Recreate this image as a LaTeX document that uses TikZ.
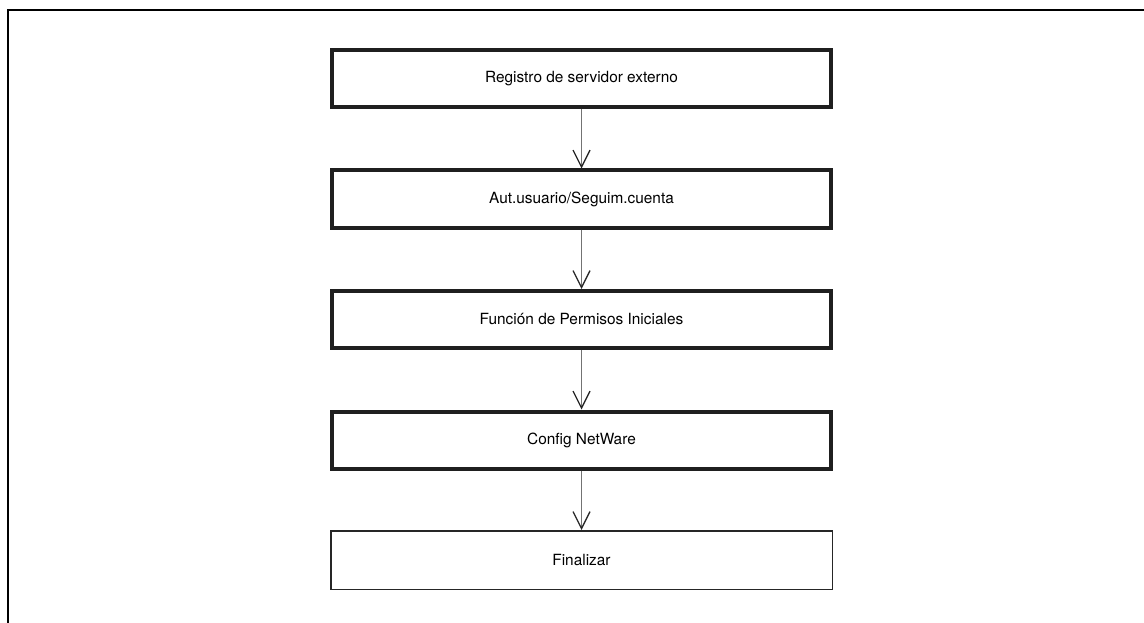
\documentclass[tikz,border=0pt]{standalone}
\usepackage{fontspec}
\setmainfont{TeX Gyre Heros}
\usetikzlibrary{arrows.meta}
\begin{document}
\begin{tikzpicture}[x=1pt,y=-1pt,
  stepbox/.style={draw=black!88, line width=4pt, minimum width=499pt, minimum height=57pt,
    inner sep=0pt, font=\fontsize{15.4}{18}\selectfont, text=black},
  endbox/.style={draw=black!85, line width=1.5pt, minimum width=501.5pt, minimum height=58.5pt,
    inner sep=0pt, font=\fontsize{15.4}{18}\selectfont, text=black},
  flow/.style={draw=black!55, line width=1pt,
    -{Straight Barb[length=17pt,width=17pt,line width=1.3pt,color=black!85]}},
  frame/.style={draw=black, line width=2.2pt}]
\useasboundingbox (0,0) rectangle (1144,623);
\draw[frame] (8,623) -- (8,10) -- (1144,10);
\node[stepbox] (b1) at (581.5,78.5) {Registro de servidor externo};
\node[stepbox] (b2) at (581.5,199) {Aut.usuario/Seguim.cuenta};
\node[stepbox] (b3) at (581.5,319.5) {Función de Permisos Iniciales};
\node[stepbox] (b4) at (581.5,440) {Config NetWare};
\node[endbox] (b5) at (581.5,560) {Finalizar};
\draw[flow] (b1.south) -- (b2.north);
\draw[flow] (b2.south) -- (b3.north);
\draw[flow] (b3.south) -- (b4.north);
\draw[flow] (b4.south) -- (b5.north);
\end{tikzpicture}
\end{document}
